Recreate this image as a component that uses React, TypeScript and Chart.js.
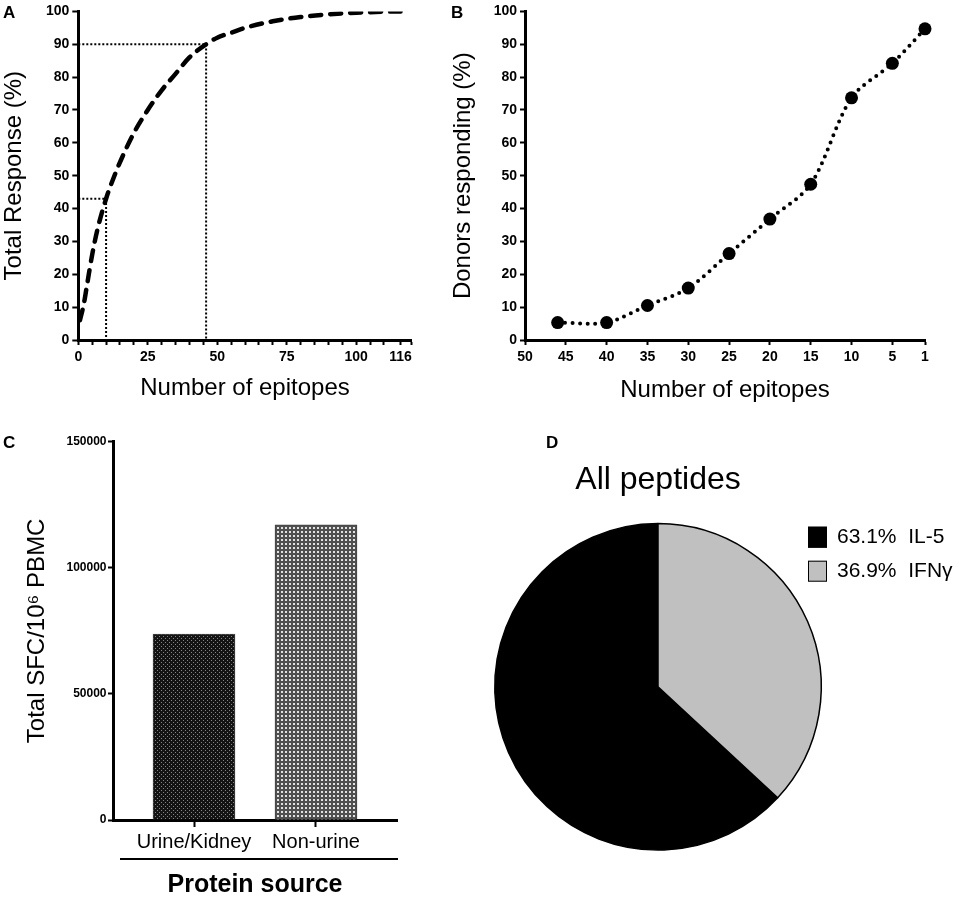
import React, { useEffect, useRef } from "react";
import { Chart, registerables } from "chart.js";

Chart.register(...registerables);

const FONT = "'Liberation Sans', Arial, Helvetica, sans-serif";
Chart.defaults.font.family = FONT;
Chart.defaults.color = "#000";

// ---------- Panel A ----------
const aEpitopes = [0.6, 2, 3, 5, 7, 10, 13, 16, 20, 25, 30, 35, 40, 46, 50, 55, 60, 70, 80, 90, 100, 110, 116];
const aResponse = [6, 11, 16, 26, 34, 43, 50, 56, 63, 70, 76, 81, 86, 90, 92, 93.5, 95, 97, 98.3, 99.1, 99.6, 99.9, 100];
const aRefEpitopes = [10, 46];
const aRefResponse = [43, 90];
const aXTickValues = [0, 5, 10, 15, 20, 25, 30, 35, 40, 45, 50, 55, 60, 65, 70, 75, 80, 85, 90, 95, 100, 105, 110, 116, 120];
const aXTickLabels = [0, 25, 50, 75, 100, 116];

// ---------- Panel B ----------
const bEpitopes = [46, 40, 35, 30, 25, 20, 15, 10, 5, 1];
const bDonors = [5.3, 5.3, 10.5, 15.8, 26.3, 36.8, 47.4, 73.7, 84.2, 94.7];
const bXTicks = [50, 45, 40, 35, 30, 25, 20, 15, 10, 5, 1];

// ---------- Panel C ----------
const cCategories = ["Urine/Kidney", "Non-urine"];
const cValues = [73700, 117000];
const cYTicks = [0, 50000, 100000, 150000];

// ---------- Panel D ----------
const dLabels = ["IL-5", "IFNγ"];
const dValues = [63.1, 36.9];
const dColors = ["#000000", "#c0c0c0"];

const tickFont = { size: 14, weight: "bold" as const, family: FONT };
const titleFont = { size: 24, family: FONT };

function makePattern(ctx: CanvasRenderingContext2D, kind: "dots" | "grid") {
  const c = document.createElement("canvas");
  c.width = 4;
  c.height = 4;
  const g = c.getContext("2d")!;
  if (kind === "dots") {
    g.fillStyle = "#141414";
    g.fillRect(0, 0, 4, 4);
    g.fillStyle = "#858585";
    g.fillRect(1, 0, 1, 1);
    g.fillRect(3, 2, 1, 1);
  } else {
    g.fillStyle = "#505050";
    g.fillRect(0, 0, 4, 4);
    g.fillStyle = "#e2e2e2";
    g.fillRect(1, 1, 2, 2);
  }
  return ctx.createPattern(c, "repeat")!;
}

function configA(): any {
  const refHigh = [
    { x: 0, y: aRefResponse[1] },
    { x: aRefEpitopes[1], y: aRefResponse[1] },
    { x: aRefEpitopes[1], y: 0 },
  ];
  const refLow = [
    { x: 0, y: aRefResponse[0] },
    { x: aRefEpitopes[0], y: aRefResponse[0] },
    { x: aRefEpitopes[0], y: 0 },
  ];
  return {
    type: "line",
    data: {
      datasets: [
        {
          data: aEpitopes.map((x, i) => ({ x, y: aResponse[i] })),
          borderColor: "#000",
          borderWidth: 4.5,
          borderDash: [11, 9],
          borderCapStyle: "round",
          cubicInterpolationMode: "monotone",
          pointRadius: 0,
          fill: false,
        },
        { data: refHigh, borderColor: "#000", borderWidth: 2, borderDash: [2, 2], pointRadius: 0, tension: 0, fill: false },
        { data: refLow, borderColor: "#000", borderWidth: 2, borderDash: [2, 2], pointRadius: 0, tension: 0, fill: false },
      ],
    },
    options: {
      animation: false,
      responsive: false,
      events: [],
      layout: { padding: { left: 0, top: 7.3, right: 28.3, bottom: 0 } },
      plugins: { legend: { display: false }, tooltip: { enabled: false } },
      scales: {
        x: {
          type: "linear",
          min: 0,
          max: 120,
          afterFit: (s: any) => { s.height = 80; },
          afterBuildTicks: (s: any) => { s.ticks = aXTickValues.map((v) => ({ value: v })); },
          ticks: {
            autoSkip: false,
            maxRotation: 0,
            font: tickFont,
            color: "#000",
            padding: 4,
            callback: (v: number) => (aXTickLabels.includes(v) ? String(v) : ""),
          },
          grid: { drawOnChartArea: false, tickLength: 5, tickWidth: 2, tickColor: "#000" },
          border: { color: "#000", width: 3 },
          title: { display: true, text: "Number of epitopes", font: titleFont, color: "#000", padding: { top: 0, bottom: 17.6 } },
        },
        y: {
          min: 0,
          max: 100,
          afterFit: (s: any) => { s.width = 78.3; },
          ticks: { stepSize: 10, font: tickFont, color: "#000", padding: 3 },
          grid: { drawOnChartArea: false, tickLength: 6, tickWidth: 2, tickColor: "#000" },
          border: { color: "#000", width: 3 },
          title: { display: true, text: "Total Response (%)", font: titleFont, color: "#000", padding: { top: 0, bottom: 0 } },
        },
      },
    },
  };
}

function configB(): any {
  return {
    type: "line",
    data: {
      datasets: [
        {
          data: bEpitopes.map((x, i) => ({ x, y: bDonors[i] })),
          borderColor: "#000",
          borderWidth: 4,
          borderDash: [0, 7.5],
          borderCapStyle: "round",
          tension: 0.3,
          pointRadius: 6.5,
          pointBackgroundColor: "#000",
          pointBorderWidth: 0,
          fill: false,
          clip: false,
        },
      ],
    },
    options: {
      animation: false,
      responsive: false,
      events: [],
      layout: { padding: { left: 0, top: 7.3, right: 40, bottom: 0 } },
      plugins: { legend: { display: false }, tooltip: { enabled: false } },
      scales: {
        x: {
          type: "linear",
          reverse: true,
          min: 1,
          max: 50,
          afterFit: (s: any) => { s.height = 80; },
          afterBuildTicks: (s: any) => { s.ticks = bXTicks.map((v) => ({ value: v })); },
          ticks: { autoSkip: false, maxRotation: 0, font: tickFont, color: "#000", padding: 4 },
          grid: { drawOnChartArea: false, tickLength: 5, tickWidth: 2, tickColor: "#000" },
          border: { color: "#000", width: 3 },
          title: { display: true, text: "Number of epitopes", font: titleFont, color: "#000", padding: { top: 0, bottom: 15.6 } },
        },
        y: {
          min: 0,
          max: 100,
          afterFit: (s: any) => { s.width = 85; },
          ticks: { stepSize: 10, font: tickFont, color: "#000", padding: 3 },
          grid: { drawOnChartArea: false, tickLength: 5, tickWidth: 2, tickColor: "#000" },
          border: { color: "#000", width: 3 },
          title: { display: true, text: "Donors responding (%)", font: titleFont, color: "#000", padding: { top: 8.6, bottom: 0 } },
        },
      },
    },
  };
}

const groupLinePlugin = {
  id: "groupLine",
  afterDraw(chart: any) {
    const s = chart.scales.x;
    const ctx = chart.ctx;
    const y = s.top + 39;
    ctx.save();
    ctx.strokeStyle = "#000";
    ctx.lineWidth = 2;
    ctx.beginPath();
    ctx.moveTo(s.left + 7, y);
    ctx.lineTo(s.right + 1, y);
    ctx.stroke();
    ctx.restore();
  },
};

function configC(ctx: CanvasRenderingContext2D): any {
  return {
    type: "bar",
    data: {
      datasets: [
        {
          data: cValues.map((y, i) => ({ x: i + 1, y })),
          backgroundColor: [makePattern(ctx, "dots"), makePattern(ctx, "grid")],
          borderColor: "#444",
          borderWidth: 1,
          barThickness: 82,
        },
      ],
    },
    options: {
      animation: false,
      responsive: false,
      events: [],
      layout: { padding: { left: 0, top: 11.7, right: 43, bottom: 0 } },
      plugins: { legend: { display: false }, tooltip: { enabled: false } },
      scales: {
        x: {
          type: "linear",
          min: 0.336,
          max: 2.664,
          offset: false,
          afterFit: (s: any) => { s.height = 78; },
          afterBuildTicks: (s: any) => { s.ticks = cCategories.map((_, i) => ({ value: i + 1 })); },
          ticks: {
            autoSkip: false,
            maxRotation: 0,
            font: { size: 20, family: FONT },
            color: "#000",
            padding: 3,
            callback: (v: number) => cCategories[Math.round(v) - 1],
          },
          grid: { offset: false, drawOnChartArea: false, tickLength: 7, tickWidth: 2, tickColor: "#000" },
          border: { color: "#000", width: 3 },
          title: {
            display: true,
            text: "Protein source",
            font: { size: 25, weight: "bold", family: FONT, lineHeight: 1 },
            color: "#000",
            padding: { top: 0, bottom: 0 },
          },
        },
        y: {
          min: 0,
          max: 150000,
          afterFit: (s: any) => { s.width = 113; },
          afterBuildTicks: (s: any) => { s.ticks = cYTicks.map((v) => ({ value: v })); },
          ticks: { font: { size: 12, weight: "bold", family: FONT }, color: "#000", padding: 1.5, callback: (v: number) => String(v) },
          grid: { drawOnChartArea: false, tickLength: 5, tickWidth: 2, tickColor: "#000" },
          border: { color: "#000", width: 3 },
          title: { display: true, text: "Total SFC/10⁶ PBMC", font: titleFont, color: "#000", padding: { top: 22.6, bottom: 0 } },
        },
      },
    },
    plugins: [groupLinePlugin],
  };
}

const pieLegendPlugin = {
  id: "pieLegend",
  afterDraw(chart: any) {
    const ctx = chart.ctx;
    const area = chart.chartArea;
    const x0 = area.right - 14;
    let y0 = area.top + 4;
    ctx.save();
    ctx.font = `21px ${FONT}`;
    ctx.textBaseline = "middle";
    ctx.textAlign = "left";
    dLabels.forEach((label, i) => {
      ctx.fillStyle = dColors[i];
      ctx.fillRect(x0, y0, 19, 21);
      ctx.strokeStyle = "#000";
      ctx.lineWidth = 1;
      ctx.strokeRect(x0 + 0.5, y0 + 0.5, 18, 20);
      ctx.fillStyle = "#000";
      ctx.fillText(`${dValues[i].toFixed(1)}%  ${label}`, x0 + 29, y0 + 11);
      y0 += 34;
    });
    ctx.restore();
  },
};

function configD(): any {
  const total = dValues.reduce((a, b) => a + b, 0);
  return {
    type: "pie",
    data: {
      labels: dLabels,
      datasets: [
        {
          data: dValues,
          backgroundColor: dColors,
          borderColor: "#000",
          borderWidth: 1.5,
        },
      ],
    },
    options: {
      animation: false,
      responsive: false,
      events: [],
      rotation: (dValues[1] / total) * 360,
      layout: { padding: { left: 24, top: 0, right: 143, bottom: 47 } },
      plugins: {
        legend: { display: false },
        tooltip: { enabled: false },
        title: {
          display: true,
          text: "All peptides",
          color: "#000",
          font: { size: 32, weight: "normal", family: FONT, lineHeight: 1.2 },
          padding: { top: 30.8, bottom: 23.5 },
        },
      },
    },
    plugins: [pieLegendPlugin],
  };
}

function ChartBox(props: { left: number; top: number; width: number; height: number; make: (ctx: CanvasRenderingContext2D) => any }) {
  const ref = useRef<HTMLCanvasElement>(null);
  useEffect(() => {
    const canvas = ref.current!;
    const ctx = canvas.getContext("2d")!;
    const chart = new Chart(canvas, props.make(ctx));
    return () => chart.destroy();
  }, []);
  return (
    <canvas
      ref={ref}
      width={props.width}
      height={props.height}
      style={{ position: "absolute", left: props.left, top: props.top, width: props.width, height: props.height }}
    />
  );
}

const labelStyle: React.CSSProperties = {
  position: "absolute",
  fontFamily: FONT,
  fontWeight: "bold",
  fontSize: 17,
  lineHeight: "17px",
  color: "#000",
};

export default function App() {
  return (
    <div style={{ position: "fixed", left: 0, top: 0, width: 965, height: 898, background: "#fff", overflow: "hidden" }}>
      <ChartBox left={0} top={0} width={440} height={420} make={() => configA()} />
      <ChartBox left={440} top={0} width={525} height={420} make={() => configB()} />
      <ChartBox left={0} top={430} width={440} height={468} make={(ctx) => configC(ctx)} />
      <ChartBox left={470} top={430} width={495} height={468} make={() => configD()} />
      <div style={{ ...labelStyle, left: 3, top: 4 }}>A</div>
      <div style={{ ...labelStyle, left: 451, top: 4 }}>B</div>
      <div style={{ ...labelStyle, left: 3, top: 434 }}>C</div>
      <div style={{ ...labelStyle, left: 546, top: 434 }}>D</div>
    </div>
  );
}
